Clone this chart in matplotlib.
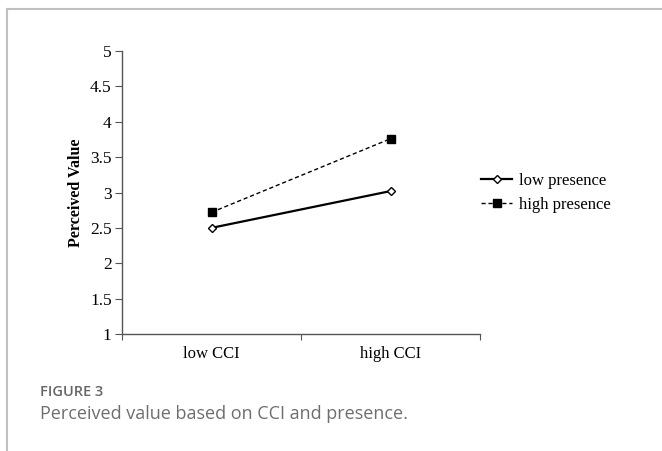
import matplotlib.pyplot as plt
from matplotlib.lines import Line2D
import numpy as np

categories = ['low CCI', 'high CCI']
low_presence = [2.50, 3.02]
high_presence = [2.72, 3.76]
y_ticks = [1, 1.5, 2, 2.5, 3, 3.5, 4, 4.5, 5]
y_ticklabels = ['1', '1.5', '2', '2.5', '3', '3.5', '4', '4.5', '5']

W, H = 662, 451
fig = plt.figure(figsize=(W / 100, H / 100), dpi=100)
ax = fig.add_axes([122 / W, 1 - 334 / H, (480 - 122) / W, (334 - 51) / H])

serif = 'Liberation Serif'
x = np.arange(1, len(categories) + 1)

ax.plot(x, low_presence, color='black', lw=1.6, marker='D', ms=4.0,
        mfc='white', mec='black', mew=1.0, label='low presence')
ax.plot(x, high_presence, color='black', lw=1.0, ls=(0, (3, 2)), marker='s',
        ms=5.5, mfc='black', mec='black', label='high presence')

ax.set_xlim(0.5, len(categories) + 0.5)
ax.set_ylim(1, 5)

# Excel-like: tick marks between categories, labels centred on categories
ax.set_xticks(np.arange(0.5, len(categories) + 1, 1.0))
ax.set_xticklabels([])
ax.set_xticks(x, minor=True)
ax.set_xticklabels(categories, minor=True, fontfamily=serif, fontsize=12)
ax.tick_params(axis='x', which='major', direction='out', length=4,
               width=0.8, color='#555555')
ax.tick_params(axis='x', which='minor', length=0, pad=9)

ax.set_yticks(y_ticks)
ax.set_yticklabels(y_ticklabels, fontfamily=serif, fontsize=12.5)
ax.tick_params(axis='y', direction='out', length=5, width=0.8, color='#555555',
               pad=2.5)

for s in ['top', 'right']:
    ax.spines[s].set_visible(False)
for s in ['left', 'bottom']:
    ax.spines[s].set_color('#555555')
    ax.spines[s].set_linewidth(1.0)

ax.set_ylabel('Perceived Value', fontfamily=serif, fontsize=11.5,
              fontweight='bold', labelpad=4)

ax.legend(loc='upper left', bbox_to_anchor=(481 / W, 1 - 173 / H),
          bbox_transform=fig.transFigure, frameon=False,
          prop={'family': serif, 'size': 12}, handlelength=1.86,
          handletextpad=0.42, labelspacing=0.5, borderpad=0,
          borderaxespad=0)

# caption
fig.text(40 / W, 1 - 392 / H, 'FIGURE 3', fontfamily='Open Sans',
         fontsize=10.5, fontweight='semibold', color='#666666', va='center')
fig.text(40 / W, 1 - 414 / H, 'Perceived value based on CCI and presence.',
         fontfamily='Open Sans', fontsize=13, color='#6e6e6e', va='center')

# page border lines
fig.add_artist(Line2D([7 / W, 1], [1 - 8.5 / H, 1 - 8.5 / H],
                      transform=fig.transFigure, color='#c0c0c0', lw=1.5))
fig.add_artist(Line2D([7 / W, 7 / W], [0, 1 - 8.5 / H],
                      transform=fig.transFigure, color='#c0c0c0', lw=1.5))

fig.savefig('out.png', dpi=100)
